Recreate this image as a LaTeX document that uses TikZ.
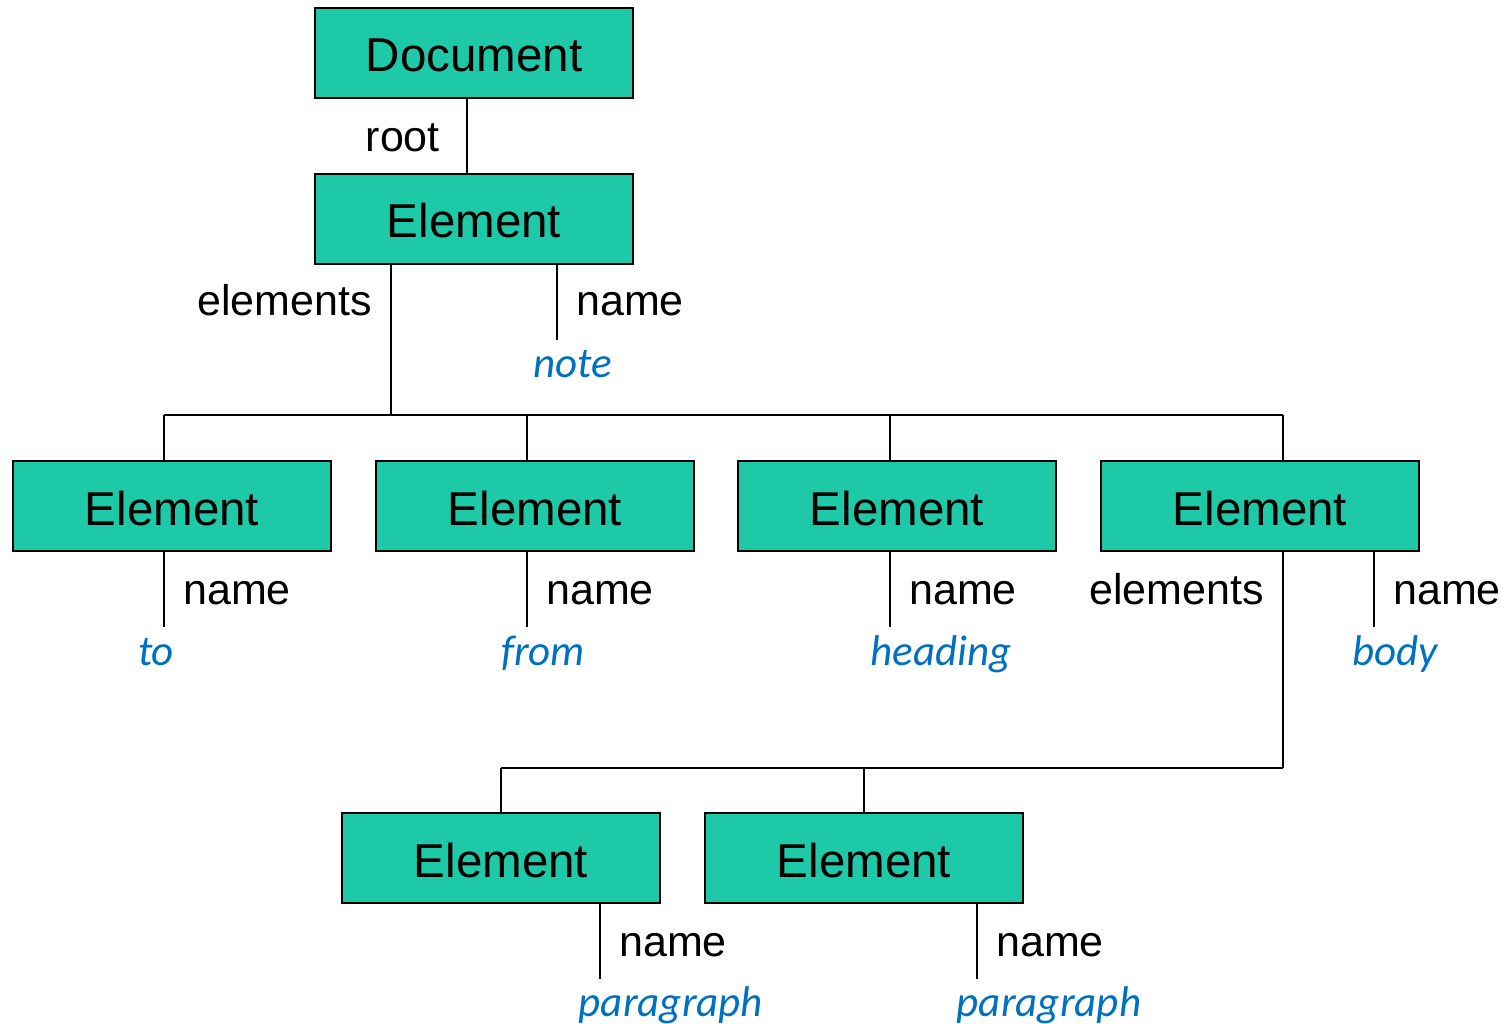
\documentclass[tikz,border=0pt]{standalone}
\usepackage{fontspec}
\setmainfont{Liberation Sans}
\newfontfamily\calfont{Carlito}
\definecolor{boxfill}{RGB}{29,201,167}
\definecolor{valblue}{RGB}{0,112,192}
\tikzset{
  obj/.style={draw=black, line width=1.5pt, fill=boxfill, minimum width=318pt, minimum height=90pt, inner sep=0pt, text height=40pt, text depth=2pt, font=\fontsize{47.5}{56}\selectfont},
  lbl/.style={inner sep=0pt, font=\fontsize{43}{50}\selectfont},
  val/.style={inner sep=0pt, text=valblue, font=\calfont\itshape\fontsize{43}{52}\selectfont, anchor=base},
  conn/.style={line width=1.5pt, draw=black}
}
\begin{document}
\begin{tikzpicture}[x=1pt,y=-1pt]
\useasboundingbox (0,0) rectangle (1510,1024);
% boxes
\node[obj] (doc) at (474,53) {Document};
\node[obj] (root) at (474,219) {Element};
\node[obj] (a) at (172,506) {Element};
\node[obj] (b) at (535,506) {Element};
\node[obj] (c) at (897,506) {Element};
\node[obj] (d) at (1260,506) {Element};
\node[obj] (p1) at (501,858) {Element};
\node[obj] (p2) at (864,858) {Element};
% coordinates
\coordinate (vr) at (467,0);
\coordinate (be) at (391,415);
\coordinate (bl) at (164,415);
\coordinate (bb) at (527,415);
\coordinate (bc) at (890,415);
\coordinate (br) at (1283,415);
\coordinate (ce) at (1283,768);
\coordinate (cl) at (501,768);
\coordinate (cm) at (864,768);
\coordinate (n0) at (557,340);
\coordinate (na) at (164,627);
\coordinate (nb) at (527,627);
\coordinate (nc) at (890,627);
\coordinate (nd) at (1374,627);
\coordinate (n1) at (600,979);
\coordinate (n2) at (977,979);
% connectors
\draw[conn] (doc.south -| vr) -- (root.north -| vr);
\draw[conn] (root.south -| be) -- (be);
\draw[conn] (root.south -| n0) -- (n0);
\draw[conn] (bl) -- (br);
\draw[conn] (bl) -- (a.north -| bl);
\draw[conn] (bb) -- (b.north -| bb);
\draw[conn] (bc) -- (c.north -| bc);
\draw[conn] (br) -- (d.north -| br);
\draw[conn] (a.south -| na) -- (na);
\draw[conn] (b.south -| nb) -- (nb);
\draw[conn] (c.south -| nc) -- (nc);
\draw[conn] (d.south -| nd) -- (nd);
\draw[conn] (d.south -| ce) -- (ce);
\draw[conn] (cl) -- (ce);
\draw[conn] (cl) -- (p1.north -| cl);
\draw[conn] (cm) -- (p2.north -| cm);
\draw[conn] (p1.south -| n1) -- (n1);
\draw[conn] (p2.south -| n2) -- (n2);
% labels
\node[lbl, anchor=base east] (lroot) at (440,152) {root};
\node[lbl, anchor=base east] (lel0) at (372,316) {elements};
\node[lbl, anchor=base west] (ln0) at (576,316) {name};
\node[val] (vn0) at (573,377) {note};
\node[lbl, anchor=base west] (lna) at (183,604) {name};
\node[lbl, anchor=base west] (lnb) at (546,604) {name};
\node[lbl, anchor=base west] (lnc) at (909,604) {name};
\node[lbl, anchor=base east] (leld) at (1264,604) {elements};
\node[lbl, anchor=base west] (lnd) at (1393,604) {name};
\node[val] (va) at (156,665) {to};
\node[val] (vb) at (543,665) {from};
\node[val] (vc) at (941,665) {heading};
\node[val] (vd) at (1395,665) {body};
\node[lbl, anchor=base west] (ln1) at (619,956) {name};
\node[lbl, anchor=base west] (ln2) at (996,956) {name};
\node[val] (v1) at (671,1016) {paragraph};
\node[val] (v2) at (1049,1016) {paragraph};
\end{tikzpicture}
\end{document}
